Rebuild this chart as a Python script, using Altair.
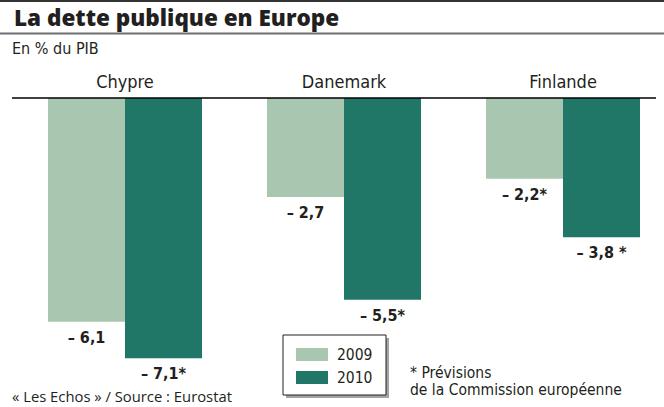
import altair as alt
import pandas as pd

countries = ["Chypre", "Danemark", "Finlande"]
years = ["2009", "2010"]
values_2009 = [-6.1, -2.7, -2.2]
values_2010 = [-7.1, -5.5, -3.8]
labels_2009 = ["– 6,1", "– 2,7", "– 2,2*"]
labels_2010 = ["– 7,1*", "– 5,5*", "– 3,8 *"]
colors = ["#a9c7b0", "#207767"]

title_text = "La dette publique en Europe"
unit_text = "En % du PIB"
source_text = "« Les Echos » / Source : Eurostat"
note_lines = ["* Prévisions", "de la Commission européenne"]

NARROW = "Liberation Sans Narrow, DejaVu Sans Condensed, Roboto Condensed, Liberation Sans, sans-serif"
HUMAN = "Open Sans, Lato, sans-serif"
INK = "#231f20"

rows = []
for i, c in enumerate(countries):
    rows.append({"country": c, "year": years[0], "value": values_2009[i], "label": labels_2009[i]})
    rows.append({"country": c, "year": years[1], "value": values_2010[i], "label": labels_2010[i]})
df = pd.DataFrame(rows)
one = alt.Data(values=[{"k": 0}])

x = alt.X("country:N",
          scale=alt.Scale(domain=countries, paddingInner=0.2968, paddingOuter=0),
          axis=alt.Axis(orient="top", title=None, ticks=False, tickSize=0, domain=False,
                        labelFont=NARROW, labelFontSize=18, labelColor=INK,
                        labelPadding=7, labelAngle=0))
xo = alt.XOffset("year:N", scale=alt.Scale(domain=years, paddingInner=0, paddingOuter=0))
y = alt.Y("value:Q", scale=alt.Scale(domain=[-7.5, 0], nice=False, zero=True), axis=None)
color = alt.Color("year:N", scale=alt.Scale(domain=years, range=colors), legend=None)

bars = alt.Chart(df).mark_bar().encode(x=x, xOffset=xo, y=y, color=color)

bar_labels = alt.Chart(df).mark_text(
    font=NARROW, fontWeight="bold", fontSize=16, baseline="middle", dy=16, color=INK
).encode(x=x, xOffset=xo, y=y, text="label:N")

baseline = alt.Chart(one).mark_rule(color="#000000", strokeWidth=1.5).encode(
    x=alt.value(-36), x2=alt.value(608), y=alt.value(0))
top_line = alt.Chart(one).mark_rule(color="#333333", strokeWidth=2).encode(
    x=alt.value(-48), x2=alt.value(616), y=alt.value(-97))
mid_line = alt.Chart(one).mark_rule(color="#6e6e6e", strokeWidth=2).encode(
    x=alt.value(-48), x2=alt.value(616), y=alt.value(-64.5))

title = alt.Chart(one).mark_text(
    text=title_text, font=HUMAN, fontWeight=800, fontSize=22.5, align="left",
    baseline="alphabetic", color=INK
).encode(x=alt.value(-34), y=alt.value(-72.5))
unit = alt.Chart(one).mark_text(
    text=unit_text, font=NARROW, fontSize=16, align="left", baseline="middle", color=INK
).encode(x=alt.value(-36), y=alt.value(-49.5))
source = alt.Chart(one).mark_text(
    text=source_text, font=HUMAN, fontSize=14.8, align="left", baseline="middle", color=INK
).encode(x=alt.value(-36), y=alt.value(300))
note1 = alt.Chart(one).mark_text(
    text=note_lines[0], font=NARROW, fontSize=15.5, align="left", baseline="middle", color=INK
).encode(x=alt.value(362), y=alt.value(275))
note2 = alt.Chart(one).mark_text(
    text=note_lines[1], font=NARROW, fontSize=15.5, align="left", baseline="middle", color=INK
).encode(x=alt.value(362), y=alt.value(291.5))

shadow = alt.Chart(one).mark_rect(color="#8c8c8c", opacity=0.8).encode(
    x=alt.value(238), x2=alt.value(341), y=alt.value(240), y2=alt.value(300))
box = alt.Chart(one).mark_rect(fill="white", stroke=INK, strokeWidth=1).encode(
    x=alt.value(235), x2=alt.value(338), y=alt.value(237), y2=alt.value(297))

sw1 = alt.Chart(one).mark_rect(color=colors[0]).encode(
    x=alt.value(248), x2=alt.value(280), y=alt.value(250), y2=alt.value(263))
sw2 = alt.Chart(one).mark_rect(color=colors[1]).encode(
    x=alt.value(248), x2=alt.value(280), y=alt.value(273), y2=alt.value(286))
lt1 = alt.Chart(one).mark_text(
    text=years[0], font=NARROW, fontSize=15.5, align="left", baseline="middle", color=INK
).encode(x=alt.value(289), y=alt.value(257))
lt2 = alt.Chart(one).mark_text(
    text=years[1], font=NARROW, fontSize=15.5, align="left", baseline="middle", color=INK
).encode(x=alt.value(289), y=alt.value(280))

chart = alt.layer(
    top_line, mid_line, title, unit, bars, baseline, bar_labels,
    source, note1, note2, shadow, box, sw1, sw2, lt1, lt2
).properties(
    width=592, height=275,
    padding={"left": 48, "top": 98, "right": 24, "bottom": 34},
    autosize=alt.AutoSizeParams(type="none"),
    background="white",
).configure_view(stroke=None)

chart.save("out.html", embed_options={"renderer": "svg", "actions": False})
